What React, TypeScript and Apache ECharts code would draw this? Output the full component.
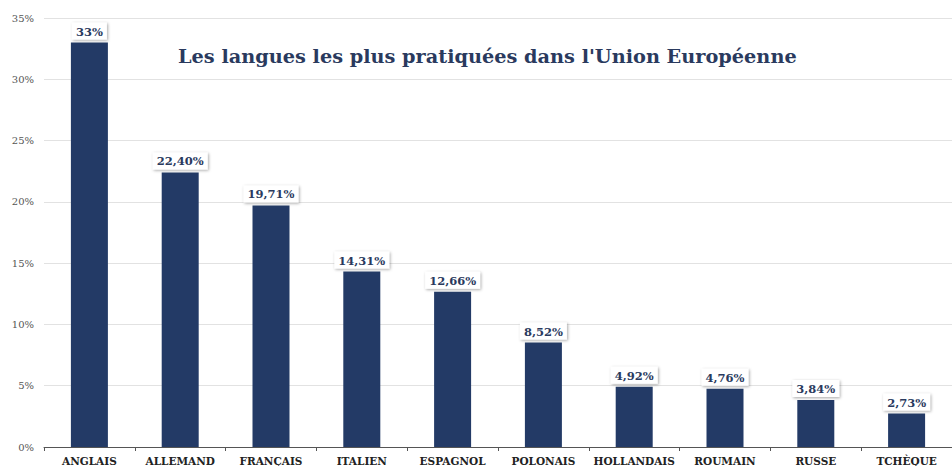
import React, { useEffect, useRef } from "react";
import * as echarts from "echarts";

const categories = ["ANGLAIS", "ALLEMAND", "FRANÇAIS", "ITALIEN", "ESPAGNOL", "POLONAIS", "HOLLANDAIS", "ROUMAIN", "RUSSE", "TCHÈQUE"];
const values = [33, 22.4, 19.71, 14.31, 12.66, 8.52, 4.92, 4.76, 3.84, 2.73];
const valueLabels = ["33%", "22,40%", "19,71%", "14,31%", "12,66%", "8,52%", "4,92%", "4,76%", "3,84%", "2,73%"];
const titleText = "Les langues les plus pratiquées dans l'Union Européenne";

const SERIF = "'DejaVu Serif', 'Liberation Serif', serif";

export default function App() {
  const ref = useRef<HTMLDivElement>(null);
  useEffect(() => {
    const chart = echarts.init(ref.current!, null, { renderer: "svg" });
    chart.setOption({
      animation: false,
      backgroundColor: "#ffffff",
      title: {
        text: titleText,
        left: 173,
        top: 42,
        textStyle: { fontFamily: SERIF, fontWeight: "bold", fontSize: 19.3, color: "#2a3a5e" },
      },
      grid: { left: 44, right: -11, top: 18, bottom: 19, containLabel: false },
      xAxis: {
        type: "category",
        data: categories,
        axisLine: { lineStyle: { color: "#555", width: 1 } },
        axisTick: { show: true, length: 4, lineStyle: { color: "#555" } },
        axisLabel: { fontFamily: SERIF, fontWeight: "bold", fontSize: 10.5, color: "#222", margin: 8, interval: 0 },
      },
      yAxis: {
        type: "value",
        min: 0,
        max: 35,
        interval: 5,
        axisLine: { show: false },
        axisTick: { show: false },
        splitLine: { lineStyle: { color: "#e2e2e2", width: 1 } },
        axisLabel: { formatter: "{value}%", fontFamily: SERIF, fontSize: 10, color: "#555", margin: 10 },
      },
      series: [
        {
          type: "bar",
          data: values,
          barWidth: 37,
          itemStyle: { color: "#233a66" },
          label: {
            show: true,
            position: "top",
            distance: 3,
            formatter: (p: any) => valueLabels[p.dataIndex],
            fontFamily: SERIF,
            fontWeight: "bold",
            fontSize: 11.5,
            color: "#2a3a5e",
            backgroundColor: "#ffffff",
            padding: [3, 4, 2, 4],
            shadowColor: "rgba(0,0,0,0.35)",
            shadowBlur: 3,
            shadowOffsetX: 1,
            shadowOffsetY: 1,
          },
        },
      ],
    });
    return () => chart.dispose();
  }, []);
  return <div ref={ref} style={{ width: 952, height: 466, position: "absolute", left: 0, top: 0 }} />;
}
